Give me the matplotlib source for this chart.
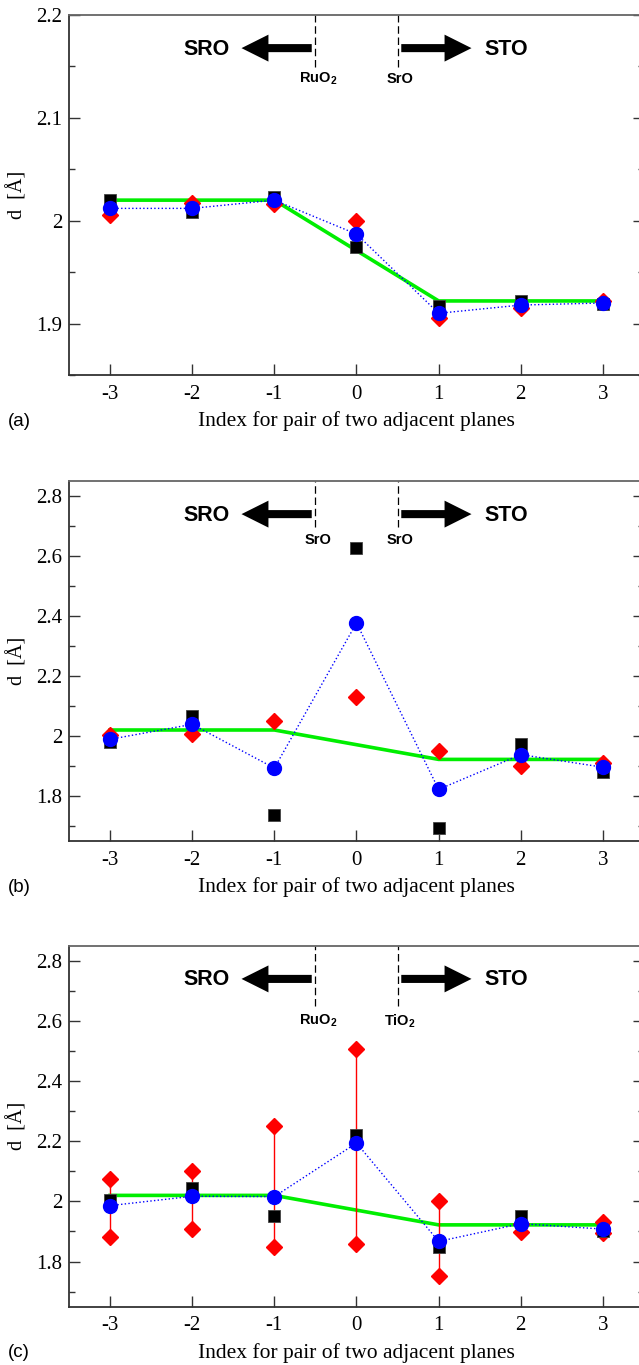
import matplotlib
matplotlib.use('Agg')
import matplotlib.pyplot as plt
from matplotlib.ticker import MultipleLocator, FuncFormatter

plt.rcParams['font.family'] = ['Liberation Serif', 'DejaVu Serif']
plt.rcParams['axes.unicode_minus'] = False

idx = [-3, -2, -1, 0, 1, 2, 3]
idx_labels = ['-3', '-2', '-1', '0', '1', '2', '3']

# bulk reference line (green)
ref = [2.020, 2.020, 2.020, 1.971, 1.922, 1.922, 1.922]

# panel (a)
a_sq = [2.020, 2.008, 2.023, 1.974, 1.917, 1.922, 1.919]
a_dia = [2.006, 2.017, 2.016, 2.000, 1.905, 1.915, 1.922]
a_circ = [2.012, 2.012, 2.020, 1.987, 1.910, 1.918, 1.920]

# panel (b)
b_sq = [1.980, 2.068, 1.736, 2.626, 1.692, 1.975, 1.879]
b_dia = [2.002, 2.007, 2.050, 2.131, 1.951, 1.901, 1.910]
b_circ = [1.989, 2.039, 1.893, 2.377, 1.822, 1.938, 1.896]

# panel (c): two diamonds per index joined by a red line
c_sq = [2.006, 2.044, 1.950, 2.222, 1.847, 1.953, 1.900]
c_dia_hi = [2.076, 2.102, 2.250, 2.505, 2.003, 1.925, 1.930]
c_dia_lo = [1.883, 1.909, 1.849, 1.858, 1.752, 1.898, 1.895]
c_circ = [1.986, 2.017, 2.016, 2.194, 1.867, 1.926, 1.908]

SANS = ['Liberation Sans', 'DejaVu Sans']


def fmt(v, pos):
    return '%g' % round(v, 3)


def setup_axes(ax, ylim, major, minor, tag):
    ax.set_xlim(-3.5, 3.5)
    ax.set_ylim(*ylim)
    ax.set_xticks(idx)
    ax.set_xticklabels(idx_labels)
    ax.yaxis.set_major_locator(MultipleLocator(major))
    ax.yaxis.set_minor_locator(MultipleLocator(minor))
    ax.yaxis.set_major_formatter(FuncFormatter(fmt))
    ax.tick_params(which='both', direction='in', top=False, right=True,
                   labelsize=15, color='#333333')
    ax.tick_params(which='major', length=8, width=1)
    ax.tick_params(which='minor', length=4, width=1)
    ax.tick_params(axis='x', pad=7)
    ax.tick_params(axis='y', pad=5)
    for s in ax.spines.values():
        s.set_color('#333333')
        s.set_linewidth(1.3)
    ax.spines['top'].set_color('#666666')
    ax.set_xlabel('Index for pair of two adjacent planes', fontsize=15.5, va='center')
    ax.xaxis.set_label_coords(0.5, -46 / 360)
    ax.set_ylabel('d  [Å]', fontsize=14.5)
    ax.yaxis.set_label_coords(-0.072, 0.5)
    ax.text(-0.106, -46 / 360, tag, transform=ax.transAxes, fontsize=13.5,
            family=SANS, ha='left', va='center')


def interface(ax, left_lab, right_lab, y_dash, y_lab):
    tr = ax.get_xaxis_transform()
    for x, lab in ((-0.5, left_lab), (0.5, right_lab)):
        ax.plot([x, x], [y_dash, 1.0], transform=tr, color='black', lw=0.9,
                ls=(0, (6, 3)), clip_on=False)
        ax.text(x + 0.03, y_lab, lab, transform=tr, ha='center', va='center',
                fontsize=10.5, family=SANS, weight='bold')
    arrow = dict(arrowstyle='simple,head_length=0.97,head_width=0.97,tail_width=0.29',
                 mutation_scale=20, fc='black', ec='none', shrinkA=0, shrinkB=0)
    ax.annotate('', xy=(-1.40, 0.908), xytext=(-0.545, 0.908),
                xycoords=tr, textcoords=tr, arrowprops=arrow)
    ax.annotate('', xy=(1.40, 0.908), xytext=(0.545, 0.908),
                xycoords=tr, textcoords=tr, arrowprops=arrow)
    ax.text(-1.82, 0.905, 'SRO', transform=tr, ha='center', va='center',
            fontsize=15.5, family=SANS, weight='bold')
    ax.text(1.82, 0.905, 'STO', transform=tr, ha='center', va='center',
            fontsize=15.5, family=SANS, weight='bold')


def draw_points(ax, sq, dia, circ):
    ax.plot(idx, ref, color='#00ee00', lw=2.6, zorder=2)
    ax.plot(idx, dia, ls='none', marker='D', ms=8.5, color='red', mec='red', zorder=3)
    ax.plot(idx, sq, ls='none', marker='s', ms=8.5, color='black', mec='#444444',
            mew=0.6, zorder=4)
    ax.plot(idx, circ, ls=':', lw=1.0, color='blue', zorder=5)
    ax.plot(idx, circ, ls='none', marker='o', ms=10, color='blue', zorder=6)


fig = plt.figure(figsize=(6.39, 13.65), dpi=100)
W = 639.0
H = 1365.0
left = 69 / W
width = (644 - 69) / W

ax_a = fig.add_axes([left, 1 - 375 / H, width, 360 / H])
ax_b = fig.add_axes([left, 1 - 841 / H, width, 360 / H])
ax_c = fig.add_axes([left, 1 - 1306.7 / H, width, 361 / H])

# (a)
setup_axes(ax_a, (1.85, 2.2), 0.1, 0.05, '(a)')
draw_points(ax_a, a_sq, a_dia, a_circ)
interface(ax_a, 'RuO$_\\mathregular{2}$', 'SrO', 0.856, 0.822)

# (b)
setup_axes(ax_b, (1.65, 2.85), 0.2, 0.1, '(b)')
draw_points(ax_b, b_sq, b_dia, b_circ)
interface(ax_b, 'SrO', 'SrO', 0.872, 0.837)

# (c)
setup_axes(ax_c, (1.65, 2.85), 0.2, 0.1, '(c)')
ax_c.plot(idx, ref, color='#00ee00', lw=2.6, zorder=2)
ax_c.vlines(idx, c_dia_lo, c_dia_hi, color='red', lw=1.0, zorder=2.5)
ax_c.plot(idx, c_dia_hi, ls='none', marker='D', ms=8.5, color='red', zorder=3)
ax_c.plot(idx, c_dia_lo, ls='none', marker='D', ms=8.5, color='red', zorder=3)
ax_c.plot(idx, c_sq, ls='none', marker='s', ms=8.5, color='black', mec='#444444',
          mew=0.6, zorder=4)
ax_c.plot(idx, c_circ, ls=':', lw=1.0, color='blue', zorder=5)
ax_c.plot(idx, c_circ, ls='none', marker='o', ms=10, color='blue', zorder=6)
interface(ax_c, 'RuO$_\\mathregular{2}$', 'TiO$_\\mathregular{2}$', 0.833, 0.792)

fig.savefig('out.png', dpi=100)
